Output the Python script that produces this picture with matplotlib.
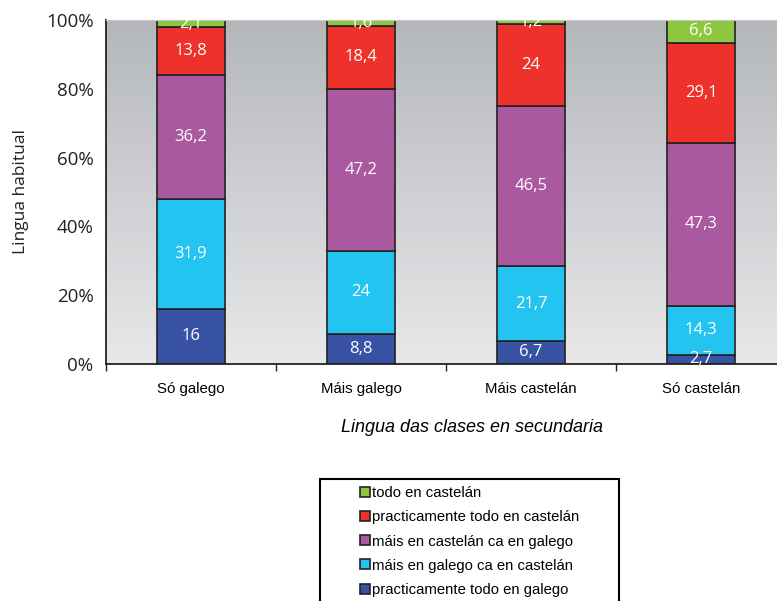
import matplotlib.pyplot as plt
import numpy as np
from matplotlib.patches import Rectangle
from matplotlib.lines import Line2D

categories = ["Só galego", "Máis galego", "Máis castelán", "Só castelán"]
series_names = ["practicamente todo en galego", "máis en galego ca en castelán",
                "máis en castelán ca en galego", "practicamente todo en castelán",
                "todo en castelán"]
todo_galego = [16, 8.8, 6.7, 2.7]
mais_galego = [31.9, 24, 21.7, 14.3]
mais_castelan = [36.2, 47.2, 46.5, 47.3]
practic_castelan = [13.8, 18.4, 24, 29.1]
todo_castelan = [2.1, 1.6, 1.2, 6.6]
series = [todo_galego, mais_galego, mais_castelan, practic_castelan, todo_castelan]
colors = ["#3953a4", "#23c4f0", "#aa58a0", "#ee322b", "#8dc63f"]

plt.rcParams['font.family'] = ['Open Sans', 'DejaVu Sans']

fig = plt.figure(figsize=(7.77, 6.01), dpi=100)
ax = fig.add_axes([106 / 777, 1 - 364 / 601, 680 / 777, 344 / 601])

# gray gradient background, dark on top
grad = np.linspace(0, 1, 256).reshape(-1, 1)
ax.imshow(grad, cmap=plt.matplotlib.colors.LinearSegmentedColormap.from_list(
    "bg", ["#b4b7ba", "#e8e8ea"]), extent=[0, 1, 0, 1], transform=ax.transAxes,
    aspect='auto', zorder=0)

x = np.arange(len(categories))
bottom = np.zeros(len(categories))
for vals, col in zip(series, colors):
    bars = ax.bar(x, vals, width=0.4, bottom=bottom, color=col,
                  edgecolor="#222222", linewidth=1.2, zorder=2)
    labels = [("%g" % v).replace(".", ",") for v in vals]
    ax.bar_label(bars, labels=labels, label_type='center', color='white',
                 fontsize=12, zorder=3)
    bottom += np.array(vals)

ax.set_xlim(-0.5, 3.5)
ax.set_ylim(0, 100)
ax.set_yticks([0, 20, 40, 60, 80, 100])
ax.set_yticklabels(["0%", "20%", "40%", "60%", "80%", "100%"], fontsize=13.5,
                   color="#222222")
ax.tick_params(axis='y', length=0, pad=9)
ax.set_xticks(x)
ax.set_xticklabels(categories, fontsize=10.8,
                   family=['Liberation Sans Narrow', 'Liberation Sans', 'DejaVu Sans'])
ax.tick_params(axis='x', length=0, pad=13)
ax.set_xticks(np.arange(-0.5, 4, 1), minor=True)
ax.tick_params(axis='x', which='minor', length=5, width=1, color="#222222")

ax.spines["right"].set_visible(False)
ax.spines["top"].set_color("#c8c8c8")
ax.spines["left"].set_color("#222222")
ax.spines["bottom"].set_color("#222222")
ax.spines["left"].set_linewidth(1.3)
ax.spines["bottom"].set_linewidth(1.3)

ax.set_ylabel("Lingua habitual", fontsize=12.5, color="#222222", labelpad=12)
fig.text(472 / 777, 1 - 428 / 601, "Lingua das clases en secundaria",
         fontsize=13, style='italic', ha='center', va='center',
         family=['Liberation Sans', 'DejaVu Sans'])

# legend
fig.patches.append(Rectangle((320 / 777, -0.05), 299 / 777, 1 - 479 / 601 + 0.05,
                             transform=fig.transFigure, fill=False,
                             edgecolor='black', linewidth=1.5))
handles = [Line2D([], [], marker='s', linestyle='none', markersize=7,
                  markerfacecolor=c, markeredgecolor='#222222', markeredgewidth=1.2)
           for c in colors[::-1]]
fig.legend(handles, series_names[::-1], loc='upper left',
           bbox_to_anchor=(346 / 777, 1 - 473 / 601), frameon=False,
           handlelength=0.7, handletextpad=0.15, labelspacing=0.68,
           prop={'family': ['Liberation Sans', 'DejaVu Sans'], 'size': 10.7})

fig.savefig("out.png", dpi=100)
